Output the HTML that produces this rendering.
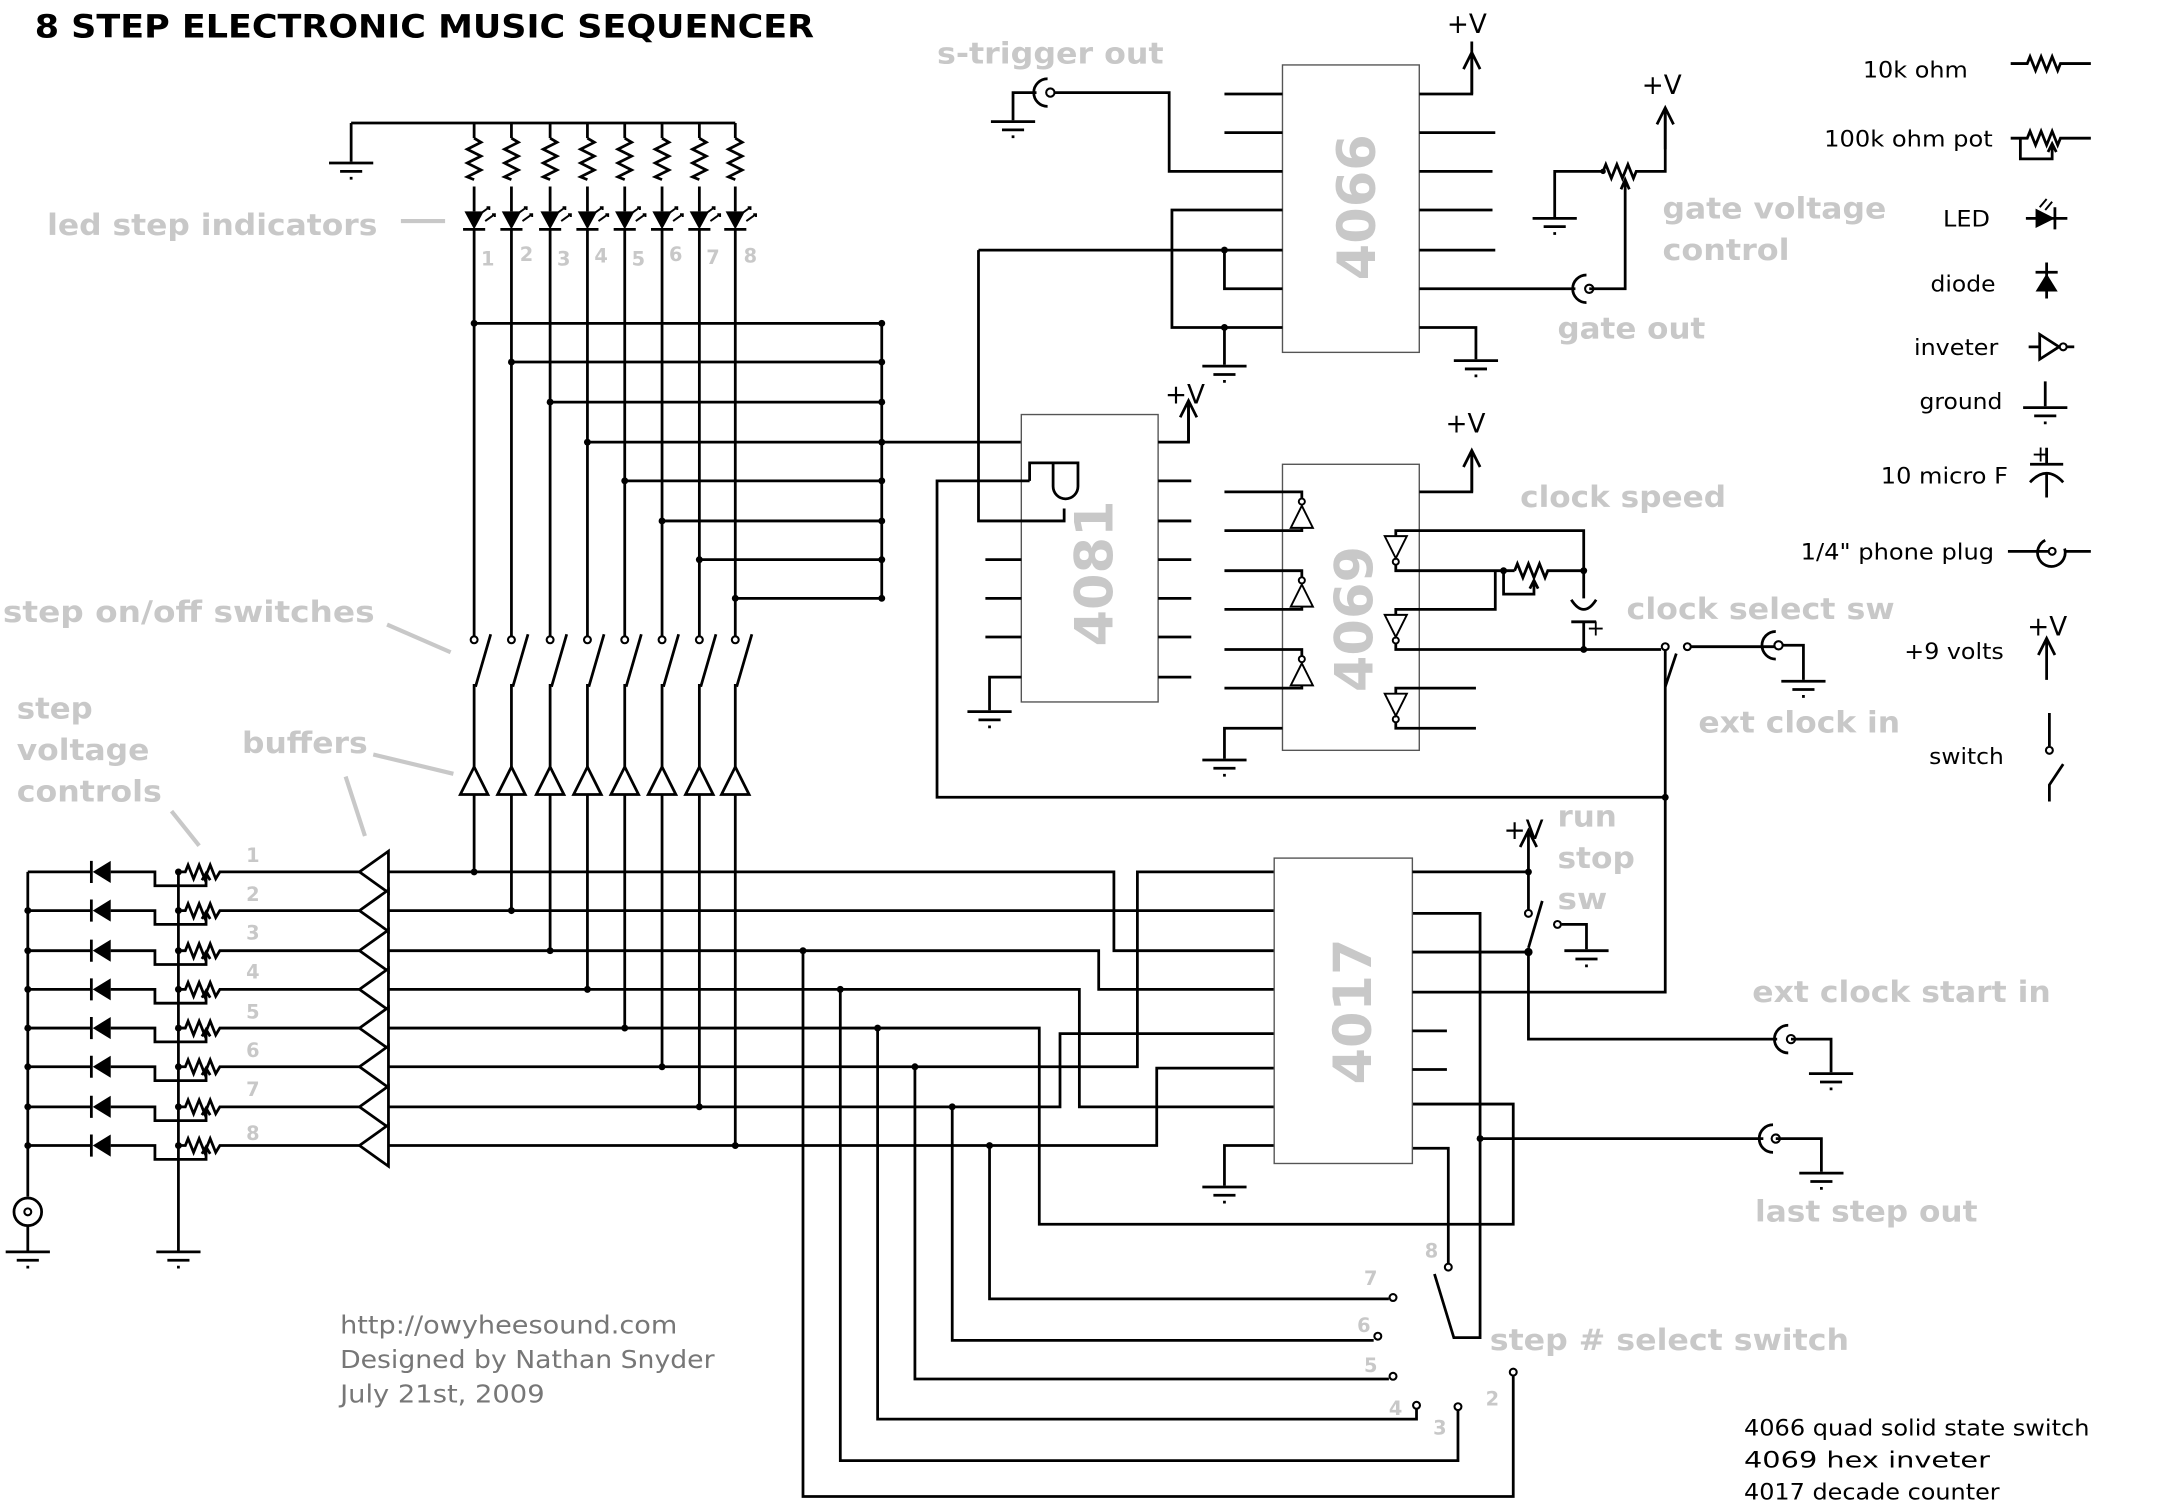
<!DOCTYPE html>
<html><head><meta charset="utf-8"><style>
html,body{margin:0;padding:0;background:#fff;overflow:hidden;}
svg{display:block;}
.w{fill:none;stroke:#000;stroke-width:2;stroke-linejoin:miter;}
.t{fill:none;stroke:#000;stroke-width:1.4;}
.box{fill:#fff;stroke:#555;stroke-width:1;}
.gl{fill:none;stroke:#c8c8c8;stroke-width:3;}
.g{font-family:"DejaVu Sans","Liberation Sans",sans-serif;font-weight:bold;fill:#c8c8c8;font-size:21px;}
.n{font-family:"DejaVu Sans","Liberation Sans",sans-serif;font-weight:bold;fill:#c8c8c8;font-size:14px;}
.k{font-family:"DejaVu Sans","Liberation Sans",sans-serif;fill:#000;font-size:16px;}
.f{font-family:"DejaVu Sans","Liberation Sans",sans-serif;fill:#777;font-size:18px;}
.chip{font-family:"DejaVu Sans","Liberation Sans",sans-serif;font-weight:bold;fill:#c8c8c8;font-size:38px;}
.v{font-family:"DejaVu Sans","Liberation Sans",sans-serif;fill:#000;font-size:19px;}
.d{fill:#000;}
.o{fill:#fff;stroke:#000;stroke-width:1.5;}
</style></head><body>
<svg width="2167" height="1507" viewBox="0 0 1568 1090.6" xmlns="http://www.w3.org/2000/svg">
<defs>
<g id="gnd"><path class="w" d="M-16,0H16M-8,6H8M-1,11H1"/></g>
<g id="res"><path class="w" d="M0,0l5,3l-10,5l10,5l-10,5l10,5l-10,5l5,2"/></g>
<g id="led"><path class="d" d="M-7,0H7L0,13Z"/><path class="w" d="M-8,13H8"/><path class="t" d="M4,2l7,-5M8,7l7,-5M9,-3l2,0l0,2M13,2l2,0l0,2"/></g>
<g id="col"><circle class="o" cx="0" cy="0" r="2.5"/></g>
<g id="bufu"><path class="w" style="fill:#fff" d="M0,0L10,20H-10Z"/></g>
<g id="row">
<path class="w" d="M20,0H66"/><path class="d" d="M80,-8V8L67,0Z"/><path class="w" d="M66,-8V8M80,0H112V10H149V2M146,6L149,1L152,6"/>
<path class="w" d="M129,0H134l2,-5l4,10l4,-10l4,10l4,-10l4,10l3,-5H260"/>
<circle class="d" cx="129" cy="0" r="2.5"/>
<path class="w" style="fill:#fff" d="M260,0L281,-15V15Z"/>
</g>
<g id="arr"><path class="w" d="M0,0V-28M-6,-18L0,-30L6,-18"/></g>
<g id="jack"><path class="w" d="M-2,-10A10,10 0 0 0 -2,10"/><circle class="o" cx="0" cy="0" r="3"/></g>
</defs>

<text x="25" y="27" font-family="DejaVu Sans, Liberation Sans, sans-serif" font-weight="bold" font-size="23" textLength="564" lengthAdjust="spacingAndGlyphs">8 STEP ELECTRONIC MUSIC SEQUENCER</text>

<!-- LED section -->
<path class="w" d="M254,89H532M254,89V117"/><use href="#gnd" x="254" y="118"/>
<g>
<use href="#res" x="343" y="100"/><use href="#res" x="370" y="100"/><use href="#res" x="398" y="100"/><use href="#res" x="425" y="100"/><use href="#res" x="452" y="100"/><use href="#res" x="479" y="100"/><use href="#res" x="506" y="100"/><use href="#res" x="532" y="100"/>
<path class="w" d="M343,89V100M343,135V153M370,89V100M370,135V153M398,89V100M398,135V153M425,89V100M425,135V153M452,89V100M452,135V153M479,89V100M479,135V153M506,89V100M506,135V153M532,89V100M532,135V153"/>
<use href="#led" x="343" y="153"/><use href="#led" x="370" y="153"/><use href="#led" x="398" y="153"/><use href="#led" x="425" y="153"/><use href="#led" x="452" y="153"/><use href="#led" x="479" y="153"/><use href="#led" x="506" y="153"/><use href="#led" x="532" y="153"/>
</g>
<text class="n" x="348" y="192">1</text><text class="n" x="376" y="189">2</text><text class="n" x="403" y="192">3</text><text class="n" x="430" y="190">4</text><text class="n" x="457" y="192">5</text><text class="n" x="484" y="189">6</text><text class="n" x="511" y="191">7</text><text class="n" x="538" y="190">8</text>

<!-- columns -->
<path class="w" d="M343,166V460M370,166V460M398,166V460M425,166V460M452,166V460M479,166V460M506,166V460M532,166V460"/>
<use href="#col" x="343" y="463"/><use href="#col" x="370" y="463"/><use href="#col" x="398" y="463"/><use href="#col" x="425" y="463"/><use href="#col" x="452" y="463"/><use href="#col" x="479" y="463"/><use href="#col" x="506" y="463"/><use href="#col" x="532" y="463"/>
<path class="w" d="M344,497L355,459M371,497L382,459M399,497L410,459M426,497L437,459M453,497L464,459M480,497L491,459M507,497L518,459M533,497L544,459"/>
<path class="w" d="M343,495V555M370,495V555M398,495V555M425,495V555M452,495V555M479,495V555M506,495V555M532,495V555"/>
<use href="#bufu" x="343" y="555"/><use href="#bufu" x="370" y="555"/><use href="#bufu" x="398" y="555"/><use href="#bufu" x="425" y="555"/><use href="#bufu" x="452" y="555"/><use href="#bufu" x="479" y="555"/><use href="#bufu" x="506" y="555"/><use href="#bufu" x="532" y="555"/>
<path class="w" d="M343,575V631M370,575V659M398,575V688M425,575V716M452,575V744M479,575V772M506,575V801M532,575V829"/>
<g class="d"><circle cx="343" cy="631" r="2.5"/><circle cx="370" cy="659" r="2.5"/><circle cx="398" cy="688" r="2.5"/><circle cx="425" cy="716" r="2.5"/><circle cx="452" cy="744" r="2.5"/><circle cx="479" cy="772" r="2.5"/><circle cx="506" cy="801" r="2.5"/><circle cx="532" cy="829" r="2.5"/></g>

<!-- taps to 638 bus -->
<path class="w" d="M343,234H638M370,262H638M398,291H638M425,320H773V335M452,348H638M479,377H638M506,405H638M532,433H638M638,234V433"/>
<g class="d"><circle cx="343" cy="234" r="2.5"/><circle cx="370" cy="262" r="2.5"/><circle cx="398" cy="291" r="2.5"/><circle cx="425" cy="320" r="2.5"/><circle cx="452" cy="348" r="2.5"/><circle cx="479" cy="377" r="2.5"/><circle cx="506" cy="405" r="2.5"/><circle cx="532" cy="433" r="2.5"/>
<circle cx="638" cy="234" r="2.5"/><circle cx="638" cy="262" r="2.5"/><circle cx="638" cy="291" r="2.5"/><circle cx="638" cy="320" r="2.5"/><circle cx="638" cy="348" r="2.5"/><circle cx="638" cy="377" r="2.5"/><circle cx="638" cy="405" r="2.5"/><circle cx="638" cy="433" r="2.5"/></g>

<!-- rows -->
<use href="#row" x="0" y="631"/><use href="#row" x="0" y="659"/><use href="#row" x="0" y="688"/><use href="#row" x="0" y="716"/><use href="#row" x="0" y="744"/><use href="#row" x="0" y="772"/><use href="#row" x="0" y="801"/><use href="#row" x="0" y="829"/>
<path class="w" d="M20,631V866"/>
<g class="d"><circle cx="20" cy="659" r="2.5"/><circle cx="20" cy="688" r="2.5"/><circle cx="20" cy="716" r="2.5"/><circle cx="20" cy="744" r="2.5"/><circle cx="20" cy="772" r="2.5"/><circle cx="20" cy="801" r="2.5"/><circle cx="20" cy="829" r="2.5"/></g>
<circle class="w" cx="20" cy="877" r="10"/><circle class="o" cx="20" cy="877" r="2.5"/>
<path class="w" d="M20,887V905"/><use href="#gnd" x="20" y="906"/><use href="#gnd" x="129" y="906"/>
<path class="w" d="M129,631V906"/>
<text class="n" x="178" y="624">1</text><text class="n" x="178" y="652">2</text><text class="n" x="178" y="680">3</text><text class="n" x="178" y="708">4</text><text class="n" x="178" y="737">5</text><text class="n" x="178" y="765">6</text><text class="n" x="178" y="793">7</text><text class="n" x="178" y="825">8</text>

<!-- row wiring to 4017 -->
<path class="w" d="M281,631H806V688H922M281,659H922M281,688H795V716H922M281,716H781V801H922M281,744H752V886H1095V799H1022M281,772H823V631H922M281,801H767V748H922M281,829H837V773H922M922,829H886V858"/>
<use href="#gnd" x="886" y="859"/>
<!-- step select -->
<g class="d"><circle cx="581" cy="688" r="2.5"/><circle cx="608" cy="716" r="2.5"/><circle cx="635" cy="744" r="2.5"/><circle cx="662" cy="772" r="2.5"/><circle cx="689" cy="801" r="2.5"/><circle cx="716" cy="829" r="2.5"/></g>
<path class="w" d="M716,829V940H1005M689,801V970H994M662,772V998H1005M635,744V1027H1025V1020M608,716V1057H1055V1021M581,688V1083H1095V996"/>
<circle class="o" cx="1008" cy="939" r="2.5"/><circle class="o" cx="997" cy="967" r="2.5"/><circle class="o" cx="1008" cy="996" r="2.5"/><circle class="o" cx="1025" cy="1017" r="2.5"/><circle class="o" cx="1055" cy="1018" r="2.5"/><circle class="o" cx="1095" cy="993" r="2.5"/><circle class="o" cx="1048" cy="917" r="2.5"/>
<path class="w" d="M1022,831H1048V914M1038,922L1052,968H1071V661H1022M1071,824H1276"/>
<circle class="d" cx="1071" cy="824" r="2.5"/>
<text class="n" x="1031" y="910">8</text><text class="n" x="987" y="930">7</text><text class="n" x="982" y="964">6</text><text class="n" x="987" y="993">5</text><text class="n" x="1005" y="1024">4</text><text class="n" x="1037" y="1038">3</text><text class="n" x="1075" y="1017">2</text>

<!-- 4017 -->
<rect class="box" x="922" y="621" width="100" height="221"/>
<text class="chip" transform="translate(992,732) rotate(-90)" text-anchor="middle">4017</text>
<path class="w" d="M1022,631H1106M1022,689H1106M1022,718H1205V470M1022,746H1047M1022,774H1047M1106,631V658M1106,689V752H1286"/>
<use href="#arr" x="1106" y="631"/>
<text class="v" x="1088" y="607">+V</text>
<circle class="d" cx="1106" cy="631" r="2.5"/><circle class="d" cx="1106" cy="689" r="3"/>
<circle class="o" cx="1106" cy="661" r="2.5"/>
<path class="w" d="M1116,652L1106,686"/>
<circle class="o" cx="1127" cy="669" r="2.5"/>
<path class="w" d="M1130,669H1148V687"/><use href="#gnd" x="1148" y="688"/>
<use href="#jack" x="1296" y="752"/><path class="w" d="M1296,752H1325V776"/><use href="#gnd" x="1325" y="777"/>
<use href="#jack" x="1285" y="824"/><path class="w" d="M1285,824H1318V848"/><use href="#gnd" x="1318" y="849"/>

<!-- 4081 -->
<rect class="box" x="739" y="300" width="99" height="208"/>
<text class="chip" transform="translate(805,415) rotate(-90)" text-anchor="middle">4081</text>
<path class="w" d="M745,348H678V577H1205M745,348V335H766V340M708,181V377H770V368M713,405H739M713,433H739M713,461H739M739,490H716V514M838,320H860V292M838,348H862M838,377H862M838,405H862M838,433H862M838,461H862M838,490H862"/>
<use href="#gnd" x="716" y="515"/>
<path class="w" style="fill:#fff" d="M762,335H780V352A9,9 0 0 1 762,352Z"/>
<use href="#arr" x="860" y="320"/>
<text class="v" x="843" y="292">+V</text>
<circle class="d" cx="1205" cy="577" r="2.5"/>

<!-- 4069 -->
<rect class="box" x="928" y="336" width="99" height="207"/>
<text class="chip" transform="translate(993,448) rotate(-90)" text-anchor="middle">4069</text>
<path class="w" d="M886,356H942V361M942,382V384H886M886,413H942V418M942,439V441H886M886,470H942V475M942,496V498H886M928,527H886V549"/>
<use href="#gnd" x="886" y="550"/>
<g class="t"><path d="M942,366L950,382H934Z"/><circle cx="942" cy="363" r="2.2"/><path d="M942,423L950,439H934Z"/><circle cx="942" cy="420" r="2.2"/><path d="M942,480L950,496H934Z"/><circle cx="942" cy="477" r="2.2"/></g>
<path class="w" d="M1027,356H1065V330"/><use href="#arr" x="1065" y="356"/>
<text class="v" x="1046" y="313">+V</text>
<path class="w" d="M1010,388V384H1146V433M1010,409V413H1096M1010,445V441H1082V413M1010,466V470H1202M1010,502V498H1068M1010,523V527H1068M1146,450V470"/>
<g class="t"><path d="M1002,388H1018L1010,404Z"/><circle cx="1010" cy="406.5" r="2.2"/><path d="M1002,445H1018L1010,461Z"/><circle cx="1010" cy="463.5" r="2.2"/><path d="M1002,502H1018L1010,518Z"/><circle cx="1010" cy="520.5" r="2.2"/></g>
<path class="w" d="M1096,413l2,-5l4,10l4,-10l4,10l4,-10l4,10l2,-5H1146M1088,413V430H1110V422M1107,426L1110,420L1113,426"/>
<path class="w" d="M1137,434Q1146,448 1155,434M1137,450H1155"/>
<text class="k" x="1148" y="460" font-size="14">+</text>
<g class="d"><circle cx="1088" cy="413" r="2.5"/><circle cx="1146" cy="413" r="2.5"/><circle cx="1146" cy="470" r="2.5"/></g>
<circle class="o" cx="1205" cy="468" r="2.5"/><circle class="o" cx="1221" cy="468" r="2.5"/>
<path class="w" d="M1213,473L1205,497M1224,468H1286M1287,467H1305V492"/>
<use href="#jack" x="1287" y="467"/><use href="#gnd" x="1305" y="493"/>

<!-- 4066 -->
<rect class="box" x="928" y="47" width="99" height="208"/>
<text class="chip" transform="translate(995,150) rotate(-90)" text-anchor="middle">4066</text>
<path class="w" d="M886,68H928M886,96H928M760,67H846V124H928M928,152H848V237H928M886,237V264M708,181H928M886,181V209H928M1027,68H1065V30M1027,96H1082M1027,124H1080M1027,152H1080M1027,181H1082M1027,209H1140M1027,237H1068V260"/>
<use href="#arr" x="1065" y="68"/><text class="v" x="1047" y="24">+V</text>
<use href="#gnd" x="886" y="265"/><use href="#gnd" x="1068" y="261"/>
<g class="d"><circle cx="886" cy="181" r="2.5"/><circle cx="886" cy="237" r="2.5"/></g>
<use href="#jack" x="760" y="67"/><path class="w" d="M750,67H733V87"/><use href="#gnd" x="733" y="88"/>
<use href="#jack" x="1150" y="209"/><path class="w" d="M1150,209H1176V132M1173,137L1176,130L1179,137"/>
<path class="w" d="M1125,157V124H1160l2,-5l4,10l4,-10l4,10l4,-10l4,10l2,-5H1205V80"/>
<use href="#arr" x="1205" y="108"/><text class="v" x="1188" y="68">+V</text>
<use href="#gnd" x="1125" y="158"/>
<circle class="d" cx="1160" cy="124" r="2"/>

<!-- gray labels -->
<text class="g" x="678" y="46" textLength="164" lengthAdjust="spacingAndGlyphs">s-trigger out</text>
<text class="g" x="34" y="170" textLength="239" lengthAdjust="spacingAndGlyphs">led step indicators</text>
<path class="gl" d="M290,160H322"/>
<text class="g" x="1203" y="158" textLength="162" lengthAdjust="spacingAndGlyphs">gate voltage</text>
<text class="g" x="1203" y="188" textLength="92" lengthAdjust="spacingAndGlyphs">control</text>
<text class="g" x="1127" y="245" textLength="107" lengthAdjust="spacingAndGlyphs">gate out</text>
<text class="g" x="1100" y="367" textLength="149" lengthAdjust="spacingAndGlyphs">clock speed</text>
<text class="g" x="1177" y="448" textLength="194" lengthAdjust="spacingAndGlyphs">clock select sw</text>
<text class="g" x="1229" y="530" textLength="146" lengthAdjust="spacingAndGlyphs">ext clock in</text>
<text class="g" x="2" y="450" textLength="269" lengthAdjust="spacingAndGlyphs">step on/off switches</text>
<path class="gl" d="M280,452L326,472"/>
<text class="g" x="12" y="520" textLength="55" lengthAdjust="spacingAndGlyphs">step</text>
<text class="g" x="12" y="550" textLength="96" lengthAdjust="spacingAndGlyphs">voltage</text>
<text class="g" x="12" y="580" textLength="105" lengthAdjust="spacingAndGlyphs">controls</text>
<path class="gl" d="M124,587L144,612"/>
<text class="g" x="175" y="545" textLength="91" lengthAdjust="spacingAndGlyphs">buffers</text>
<path class="gl" d="M270,546L328,560M250,562L264,605"/>
<text class="g" x="1127" y="598" textLength="43" lengthAdjust="spacingAndGlyphs">run</text>
<text class="g" x="1127" y="628" textLength="56" lengthAdjust="spacingAndGlyphs">stop</text>
<text class="g" x="1127" y="658" textLength="36" lengthAdjust="spacingAndGlyphs">sw</text>
<text class="g" x="1268" y="725" textLength="216" lengthAdjust="spacingAndGlyphs">ext clock start in</text>
<text class="g" x="1270" y="884" textLength="161" lengthAdjust="spacingAndGlyphs">last step out</text>
<text class="g" x="1078" y="977" textLength="260" lengthAdjust="spacingAndGlyphs">step # select switch</text>

<!-- legend -->
<text class="k" x="1348" y="56" textLength="76" lengthAdjust="spacingAndGlyphs">10k ohm</text>
<path class="w" d="M1455,46H1467l2,-5l4,10l4,-10l4,10l4,-10l4,10l2,-5H1513"/>
<text class="k" x="1320" y="106" textLength="122" lengthAdjust="spacingAndGlyphs">100k ohm pot</text>
<path class="w" d="M1455,100H1467l2,-5l4,10l4,-10l4,10l4,-10l4,10l2,-5H1513M1462,100V115H1485V106M1482,110L1485,104L1488,110"/>
<text class="k" x="1406" y="164" textLength="34" lengthAdjust="spacingAndGlyphs">LED</text>
<path class="d" d="M1473,151V165L1487,158Z"/><path class="w" d="M1466,158H1496M1487,150V166"/><path class="t" d="M1476,150l5,-6M1480,152l5,-6"/>
<text class="k" x="1397" y="211" textLength="47" lengthAdjust="spacingAndGlyphs">diode</text>
<path class="d" d="M1473,211H1489L1481,198Z"/><path class="w" d="M1473,197H1489M1481,190V216"/>
<text class="k" x="1385" y="257" textLength="61" lengthAdjust="spacingAndGlyphs">inveter</text>
<path class="w" d="M1468,251H1476M1476,242V260L1490,251Z"/><circle class="o" cx="1493" cy="251" r="2.5"/><path class="w" d="M1496,251H1501"/>
<text class="k" x="1389" y="296" textLength="60" lengthAdjust="spacingAndGlyphs">ground</text>
<path class="w" d="M1480,276V294"/><use href="#gnd" x="1480" y="295"/>
<text class="k" x="1361" y="350" textLength="92" lengthAdjust="spacingAndGlyphs">10 micro F</text>
<path class="w" d="M1481,324V336M1469,336H1493M1469,349Q1481,336 1493,349M1481,342V360"/>
<text class="k" x="1470" y="334" font-size="13">+</text>
<text class="k" x="1303" y="405" textLength="140" lengthAdjust="spacingAndGlyphs">1/4" phone plug</text>
<path class="w" d="M1453,399H1482M1494,399H1513M1480,391A10,10 0 1 0 1494,397"/><circle class="o" cx="1485" cy="399" r="2.5"/>
<text class="k" x="1378" y="477" textLength="72" lengthAdjust="spacingAndGlyphs">+9 volts</text>
<path class="w" d="M1481,492V464M1475,474L1481,462L1487,474"/><text class="v" x="1467" y="460" font-size="16">+V</text>
<text class="k" x="1396" y="553" textLength="54" lengthAdjust="spacingAndGlyphs">switch</text>
<path class="w" d="M1483,516V540M1493,553L1483,568V580"/><circle class="o" cx="1483" cy="543" r="2.5"/>

<!-- footer -->
<text class="f" x="246" y="965" textLength="244" lengthAdjust="spacingAndGlyphs">http://owyheesound.com</text>
<text class="f" x="246" y="990" textLength="271" lengthAdjust="spacingAndGlyphs">Designed by Nathan Snyder</text>
<text class="f" x="246" y="1015" textLength="148" lengthAdjust="spacingAndGlyphs">July 21st, 2009</text>
<text class="k" x="1262" y="1039" font-size="17" textLength="250" lengthAdjust="spacingAndGlyphs">4066 quad solid state switch</text>
<text class="k" x="1262" y="1062" font-size="17" textLength="178" lengthAdjust="spacingAndGlyphs">4069 hex inveter</text>
<text class="k" x="1262" y="1085" font-size="17" textLength="185" lengthAdjust="spacingAndGlyphs">4017 decade counter</text>
</svg>
</body></html>
